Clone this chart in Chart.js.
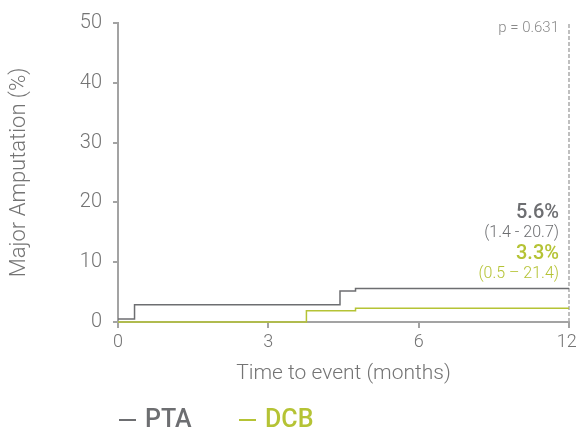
<!DOCTYPE html>
<html>
<head>
<meta charset="utf-8">
<script src="https://cdn.jsdelivr.net/npm/chart.js@4/dist/chart.umd.min.js"></script>
<style>
  html, body { margin: 0; padding: 0; background: #fff; }
  #wrap { width: 576px; height: 433px; position: relative; }
</style>
</head>
<body>
<div id="wrap"><canvas id="chart01"></canvas></div>
<script>
// x axis is drawn with equal spacing between the tick months (0, 3, 6, 12)
var xTickMonths = [0, 3, 6, 12];
var xTickLabels = ['0', '3', '6', '12'];
var yTicks = [0, 10, 20, 30, 40, 50];

var ptaMonths = [0, 0.33, 4.43, 4.74, 12];
var ptaValues = [0.5, 2.9, 5.2, 5.6, 5.6];
var dcbMonths = [0, 3.76, 4.74, 12];
var dcbValues = [0, 1.9, 2.3, 2.3];

var followUpMonth = 12;
var pText = 'p = 0.631';
var ptaLabel = 'PTA', ptaRate = '5.6%', ptaCI = '(1.4 - 20.7)';
var dcbLabel = 'DCB', dcbRate = '3.3%', dcbCI = '(0.5 – 21.4)';

var grey = '#6d6e71';
var green = '#b5c335';
var axisGrey = '#a3a3a3';
var textGrey = '#747474';
var FONT = 'Roboto, "DejaVu Sans", sans-serif';

// month -> position on the evenly spaced axis
function toAxis(m) {
  for (var i = 0; i < xTickMonths.length - 1; i++) {
    var a = xTickMonths[i], b = xTickMonths[i + 1];
    if (m <= b) return i + (m - a) / (b - a);
  }
  return xTickMonths.length - 1;
}

function points(months, values) {
  return months.map(function(m, i) { return { x: toAxis(m), y: values[i] }; });
}

var overlay = {
  id: 'overlay',
  afterDraw: function(chart) {
    var ctx = chart.ctx;
    var xs = chart.scales.x;
    var right = xs.getPixelForValue(toAxis(followUpMonth)) - 10;
    ctx.save();
    ctx.textAlign = 'right';
    ctx.textBaseline = 'middle';
    ctx.fillStyle = '#8a8a8a';
    ctx.font = '300 15px ' + FONT;
    ctx.fillText(pText, right, 28);

    ctx.fillStyle = grey;
    ctx.font = '500 20px ' + FONT;
    ctx.fillText(ptaRate, right, 213);
    ctx.font = '300 16px ' + FONT;
    ctx.fillText(ptaCI, right, 233);
    ctx.fillStyle = green;
    ctx.font = '500 20px ' + FONT;
    ctx.fillText(dcbRate, right, 254);
    ctx.font = '300 16px ' + FONT;
    ctx.fillText(dcbCI, right, 274);

    // legend
    var items = [
      { text: ptaLabel, color: grey, x: 119 },
      { text: dcbLabel, color: green, x: 239 }
    ];
    var ly = 420;
    items.forEach(function(it) {
      ctx.strokeStyle = it.color;
      ctx.lineWidth = 2;
      ctx.beginPath();
      ctx.moveTo(it.x, ly);
      ctx.lineTo(it.x + 17, ly);
      ctx.stroke();
      ctx.fillStyle = it.color;
      ctx.textAlign = 'left';
      ctx.font = '500 25px ' + FONT;
      ctx.fillText(it.text, it.x + 26, ly + 1);
    });
    ctx.restore();
  }
};

var data = {
  datasets: [
  {
    label: ptaLabel,
    data: points(ptaMonths, ptaValues),
    borderColor: grey,
    borderWidth: 1.5,
    stepped: true,
    pointRadius: 0,
    clip: false
  }, {
    label: dcbLabel,
    data: points(dcbMonths, dcbValues),
    borderColor: green,
    borderWidth: 1.5,
    stepped: true,
    pointRadius: 0,
    clip: false
  }, {
    label: 'end',
    data: [{ x: toAxis(followUpMonth), y: yTicks[0] }, { x: toAxis(followUpMonth), y: yTicks[yTicks.length - 1] }],
    borderColor: '#ababab',
    borderWidth: 1.5,
    borderDash: [4, 2],
    pointRadius: 0,
    clip: false
  }]
};

var ctx = document.getElementById('chart01');
var chart = new Chart(ctx, {
  type: 'line',
  data: data,
  plugins: [overlay],
  options: {
    responsive: true,
    maintainAspectRatio: false,
    animation: false,
    layout: { padding: { top: 19, right: 7, bottom: 47, left: 0 } },
    plugins: {
      legend: { display: false },
      tooltip: { enabled: false }
    },
    scales: {
      x: {
        type: 'linear',
        min: 0,
        max: xTickMonths.length - 1,
        afterFit: function(scale) { scale.height = 64; scale.paddingRight = 0; scale.paddingLeft = 0; },
        afterBuildTicks: function(scale) {
          scale.ticks = xTickLabels.map(function(l, i) { return { value: i }; });
        },
        border: { color: axisGrey, width: 2 },
        grid: { drawOnChartArea: false, drawTicks: true, tickLength: 6, color: axisGrey, lineWidth: 2 },
        ticks: {
          color: textGrey,
          padding: 4,
          maxRotation: 0,
          font: { family: FONT, size: 18, weight: '300' },
          callback: function(v) {
            // last label nudged left so it stays inside the canvas
            return v === xTickLabels.length - 1 ? xTickLabels[v] + '\u00a0' : xTickLabels[v];
          }
        },
        title: {
          display: true,
          text: 'Time to event (months)',
          color: textGrey,
          padding: 0,
          font: { family: FONT, size: 21, weight: '300' }
        }
      },
      y: {
        min: yTicks[0],
        max: yTicks[yTicks.length - 1],
        afterFit: function(scale) { scale.width = 118; },
        afterBuildTicks: function(scale) {
          scale.ticks = yTicks.map(function(v) { return { value: v }; });
        },
        border: { color: axisGrey, width: 2 },
        grid: { drawOnChartArea: false, drawTicks: true, tickLength: 5, color: axisGrey, lineWidth: 2 },
        ticks: {
          color: textGrey,
          padding: 11,
          font: { family: FONT, size: 20, weight: '300' }
        },
        title: {
          display: true,
          text: 'Major Amputation (%)',
          color: textGrey,
          padding: { top: 6, bottom: 0 },
          font: { family: FONT, size: 22, weight: '300' }
        }
      }
    }
  }
});
</script>
</body>
</html>
